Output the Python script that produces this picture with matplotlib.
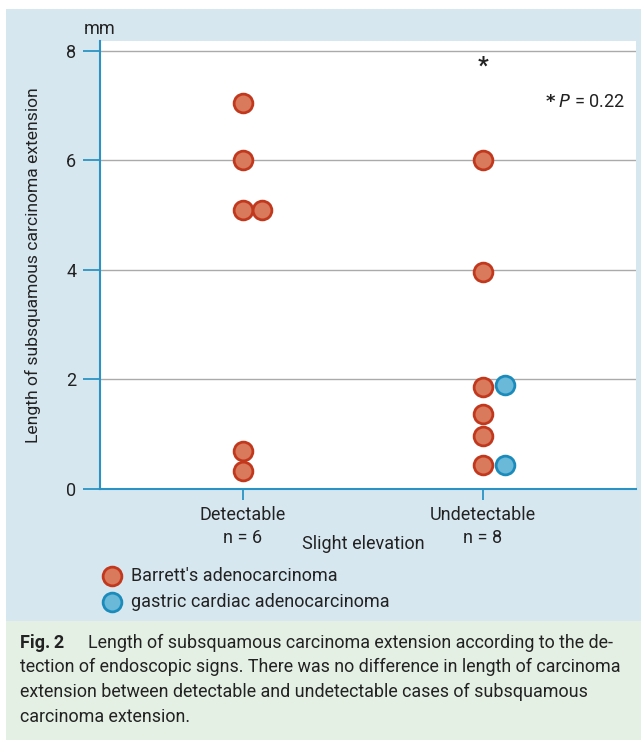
import matplotlib
matplotlib.use('Agg')
import matplotlib.pyplot as plt
from matplotlib.patches import Rectangle

# data (mm)
groups = ['Detectable\nn = 6', 'Undetectable\nn = 8']
det_barrett = [7.05, 6.0, 5.1, 5.1, 0.7, 0.33]
det_offset = [0, 0, 0, 1, 0, 0]
und_barrett = [6.0, 3.96, 1.86, 1.37, 0.97, 0.44]
und_gastric = [1.9, 0.44]
star_y = 7.72

red_face, red_edge = '#d97a5c', '#c2381d'
blue_face, blue_edge = '#6bb9d9', '#1a8bbb'
axis_blue = '#2a93c4'
txt = '#222222'
W, H = 641, 742

plt.rcParams['font.family'] = ['Roboto', 'DejaVu Sans']
fig = plt.figure(figsize=(W / 100, H / 100), dpi=100)
fig.patches.append(Rectangle((6 / W, 1 - 621 / H), 635 / W, 612 / H, transform=fig.transFigure,
                             facecolor='#d7e7f0', edgecolor='none', zorder=-5))
fig.patches.append(Rectangle((6 / W, 1 - 740 / H), 635 / W, 119 / H, transform=fig.transFigure,
                             facecolor='#e5f0e5', edgecolor='none', zorder=-5))

ax = fig.add_axes([100 / W, 1 - 489 / H, 536 / W, 448 / H])
ax.set_zorder(2)
ax.set_facecolor('white')
ax.set_ylim(0, 8.18)
ax.set_xlim(0.404, 2.638)

dx = 0.09
ms = 13.5
ax.plot([1 + o * dx * 0.9 for o in det_offset], det_barrett, 'o', ms=ms, mfc=red_face, mec=red_edge, mew=2, zorder=3, clip_on=False)
ax.plot([2] * len(und_barrett), und_barrett, 'o', ms=ms, mfc=red_face, mec=red_edge, mew=2, zorder=3, clip_on=False)
ax.plot([2 + dx] * len(und_gastric), und_gastric, 'o', ms=ms, mfc=blue_face, mec=blue_edge, mew=2, zorder=3, clip_on=False)

ax.text(2, star_y, '*', ha='center', va='center', fontsize=17, fontweight='bold', color=txt)
ax.text(0.98, 0.864, r'$\mathbf{*}$' + ' $P$ = 0.22', transform=ax.transAxes, ha='right', va='center',
        fontsize=13, color=txt)

ax.set_yticks([0, 2, 4, 6, 8])
ax.set_xticks([1, 2])
ax.set_xticklabels(groups, fontsize=13, color=txt, linespacing=1.35)
ax.grid(axis='y', color='#aaaaaa', lw=1)
ax.set_axisbelow(True)
for s in ['top', 'right']:
    ax.spines[s].set_visible(False)
for s in ['left', 'bottom']:
    ax.spines[s].set_color(axis_blue)
    ax.spines[s].set_linewidth(1.5)
ax.tick_params(axis='y', length=12, width=1.3, color=axis_blue, pad=5, labelsize=13, labelcolor=txt)
ax.tick_params(axis='x', length=8, width=1.3, color=axis_blue, pad=4)
ax.set_ylabel('Length of subsquamous carcinoma extension', fontsize=12.6, color=txt, labelpad=18)
ax.text(-0.03, 1.027, 'mm', transform=ax.transAxes, ha='left', va='center', fontsize=13, color=txt)
fig.text(363 / W, 1 - 544 / H, 'Slight elevation', ha='center', va='center', fontsize=13, color=txt)

# legend
for ly, lab, fc, ec in [(576, "Barrett's adenocarcinoma", red_face, red_edge),
                        (602, 'gastric cardiac adenocarcinoma', blue_face, blue_edge)]:
    fig.lines.append(plt.Line2D([112 / W], [1 - ly / H], transform=fig.transFigure, marker='o', ms=ms,
                                mfc=fc, mec=ec, mew=2, ls='none'))
    fig.text(131 / W, 1 - ly / H, lab, ha='left', va='center', fontsize=13, color=txt)

# caption
cap = ['Length of subsquamous carcinoma extension according to the de-',
       'tection of endoscopic signs. There was no difference in length of carcinoma',
       'extension between detectable and undetectable cases of subsquamous',
       'carcinoma extension.']
fig.text(20 / W, 1 - 643 / H, 'Fig.\u20092', ha='left', va='center', fontsize=13, fontweight='bold', color=txt)
ys = [643, 667, 692, 717]
for i, line in enumerate(cap):
    x0 = 88 if i == 0 else 20
    fig.text(x0 / W, 1 - ys[i] / H, line, ha='left', va='center', fontsize=12.9, color=txt)

fig.savefig('out.png', dpi=100)
